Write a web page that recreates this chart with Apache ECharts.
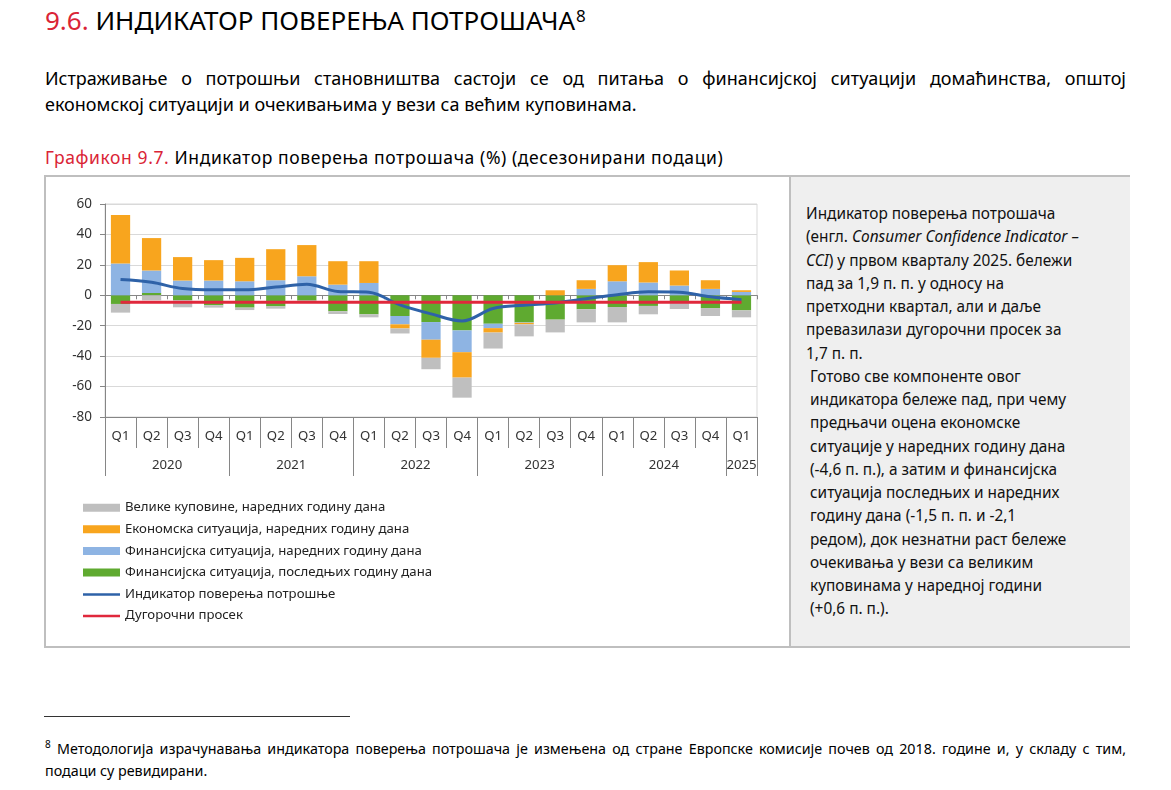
<!DOCTYPE html>
<html>
<head>
<meta charset="utf-8">
<script src="https://cdn.jsdelivr.net/npm/echarts@6/dist/echarts.min.js"></script>
<style>
  html, body { margin:0; padding:0; background:#fff; width:1171px; height:790px; overflow:hidden; font-family:"Noto Sans", sans-serif; color:#000; }
  .abs { position:absolute; white-space:nowrap; }
  .red { color:#DA2436; }
  #h1 { left:45px; top:3px; font-size:26px; line-height:34px; }
  #h1 sup { font-size:17px; position:relative; top:-4px; vertical-align:top; margin-left:1px; }
  .jl { text-align:justify; text-align-last:justify; white-space:normal; }
  #p1 { left:45px; top:65px; width:1081px; font-size:18px; line-height:26px; }
  #cap { left:45px; top:145px; font-size:17.5px; line-height:24px; letter-spacing:0.6px; }
  #box { position:absolute; left:44px; top:175px; width:1082px; height:469px; border:2px solid #BFBFBF; box-sizing:content-box; }
  #chart { position:absolute; left:0; top:0; width:743px; height:469px; }
  #panel { position:absolute; left:743px; top:0; width:339px; height:469px; background:#EFEFEF; border-left:2px solid #BFBFBF; }
  #ptext { position:absolute; left:15px; top:25px; font-size:15.4px; line-height:23.25px; white-space:nowrap; color:#111; }
  #rule { position:absolute; left:44px; top:716px; width:306px; height:1px; background:#333; }
  #fn { left:45px; top:733px; width:1081px; font-size:14.3px; line-height:22px; }
</style>
</head>
<body>
<div id="h1" class="abs"><span class="red">9.6.</span> ИНДИКАТОР ПОВЕРЕЊА ПОТРОШАЧА<sup>8</sup></div>
<div id="p1" class="abs"><div class="jl">Истраживање о потрошњи становништва састоји се од питања о финансијској ситуацији домаћинства, општој</div><div>економској ситуацији и очекивањима у вези са већим куповинама.</div></div>
<div id="cap" class="abs"><span class="red">Графикон 9.7.</span> Индикатор поверења потрошача (%) (десезонирани подаци)</div>
<div id="box">
  <div id="chart"></div>
  <div id="panel"><div id="ptext">Индикатор поверења потрошача<br>(енгл. <i>Consumer Confidence Indicator –</i><br><i>CCI</i>) у првом кварталу 2025. бележи<br>пад за 1,9 п. п. у односу на<br>претходни квартал, али и даље<br>превазилази дугорочни просек за<br>1,7 п. п.<br>&nbsp;Готово све компоненте овог<br>&nbsp;индикатора бележе пад, при чему<br>&nbsp;предњачи оцена економске<br>&nbsp;ситуације у наредних годину дана<br>&nbsp;(-4,6 п. п.), а затим и финансијска<br>&nbsp;ситуација последњих и наредних<br>&nbsp;годину дана (-1,5 п. п. и -2,1<br>&nbsp;редом), док незнатни раст бележе<br>&nbsp;очекивања у вези са великим<br>&nbsp;куповинама у наредној години<br>&nbsp;(+0,6 п. п.).</div></div>
</div>
<div id="rule"></div>
<div id="fn" class="abs"><div class="jl"><sup style="font-size:10px">8</sup> Методологија израчунавања индикатора поверења потрошача је измењена од стране Европске комисије почев од 2018. године и, у складу с тим,</div><div>подаци су ревидирани.</div></div>

<script>
// ---- data ----
const quarters = ['Q1','Q2','Q3','Q4','Q1','Q2','Q3','Q4','Q1','Q2','Q3','Q4','Q1','Q2','Q3','Q4','Q1','Q2','Q3','Q4','Q1'];
const years = ['2020','2021','2022','2023','2024','2025'];
const yearLengths = [4,4,4,4,4,1];

const bigPurchases = [-5.7,-3.3,-4.6,-1.5,-1.6,-1.5,-0.5,-1.8,-2.0,-3.3,-7.5,-13.2,-10.5,-7.9,-8.4,-8.6,-10.1,-5.5,-3.9,-5.2,-4.6];
const econNext     = [31.8,21.3,15.4,13.4,15.4,20.4,20.5,15.4,14.3,-2.7,-11.9,-16.7,-2.9,-1.0,3.3,5.7,10.6,13.4,9.9,5.7,1.1];
const finNext      = [20.9,14.8,9.7,9.7,9.2,9.9,12.5,7.0,8.1,-5.5,-11.6,-14.3,-2.9,-0.3,0.0,4.2,9.2,8.4,6.4,4.2,2.2];
const finLast      = [-5.7,1.5,-3.3,-6.6,-8.1,-7.3,-3.5,-10.5,-12.5,-13.6,-17.6,-23.1,-18.7,-17.8,-16.0,-9.2,-7.7,-7.0,-5.1,-8.4,-9.9];
const cci          = [10.3,8.5,4.4,3.6,3.6,5.4,7.2,2.5,2.0,-6.3,-12.2,-16.9,-8.7,-6.5,-5.0,-2.3,0.4,2.3,2.0,-1.0,-2.9];
const longAvg      = [-4.6,-4.6,-4.6,-4.6,-4.6,-4.6,-4.6,-4.6,-4.6,-4.6,-4.6,-4.6,-4.6,-4.6,-4.6,-4.6,-4.6,-4.6,-4.6,-4.6,-4.6];

const names = {
  big: 'Велике куповине, наредних годину дана',
  econ: 'Економска ситуација, наредних годину дана',
  finN: 'Финансијска ситуација, наредних годину дана',
  finL: 'Финансијска ситуација, последњих годину дана',
  cci: 'Индикатор поверења потрошње',
  avg: 'Дугорочни просек'
};

// half-step slots for the year level of the axis
const slots = new Array(quarters.length * 2 + 1).fill('');
const boundaries = new Set();
let start = 0;
years.forEach((y, i) => {
  boundaries.add(start * 2);
  slots[start * 2 + yearLengths[i]] = y;
  start += yearLengths[i];
});
boundaries.add(start * 2);

const FONT = '"Noto Sans", sans-serif';
const lineIcon = 'path://M0,0 M0,3 L38,3 L38,5.6 L0,5.6 Z M38,8';
const chart = echarts.init(document.getElementById('chart'), null, {renderer:'canvas'});
const barW = '62%';
chart.setOption({
  animation: false,
  textStyle: { fontFamily: FONT },
  grid: { left: 59, top: 27, width: 652, height: 213, show: true, borderColor: '#D9D9D9', borderWidth: 1 },
  legend: {
    orient: 'vertical', left: 32, top: 319, itemWidth: 37, itemHeight: 8, itemGap: 8.2,
    textStyle: { fontFamily: FONT, fontSize: 13.2, color: '#222', lineHeight: 13.4 },
    data: [
      {name: names.big, icon: 'rect'},
      {name: names.econ, icon: 'rect'},
      {name: names.finN, icon: 'rect'},
      {name: names.finL, icon: 'rect'},
      {name: names.cci, icon: lineIcon},
      {name: names.avg, icon: lineIcon}
    ]
  },
  xAxis: [
    { type: 'category', data: quarters, position: 'bottom',
      axisLine: { onZero: false, lineStyle: { color: '#868686' } },
      axisTick: { show: true, length: 31, interval: 0, lineStyle: { color: '#868686' } },
      axisLabel: { interval: 0, margin: 13, fontSize: 13.2, color: '#333', fontFamily: FONT },
      splitLine: { show: false } },
    { type: 'category', data: slots, boundaryGap: false, position: 'bottom',
      axisLine: { onZero: false, show: false },
      axisTick: { show: true, length: 59, interval: (i) => boundaries.has(i), lineStyle: { color: '#868686' } },
      axisLabel: { interval: 0, margin: 42, fontSize: 13.2, color: '#333', fontFamily: FONT },
      splitLine: { show: false } },
    { type: 'category', data: quarters, position: 'bottom',
      axisLine: { onZero: true, lineStyle: { color: '#868686' } },
      axisTick: { show: true, length: 4, interval: 0, lineStyle: { color: '#868686' } },
      axisLabel: { show: false }, splitLine: { show: false } }
  ],
  yAxis: {
    type: 'value', min: -80, max: 60, interval: 20,
    axisLine: { show: true, lineStyle: { color: '#868686' } },
    axisTick: { show: true, length: 5, lineStyle: { color: '#868686' } },
    axisLabel: { margin: 13, fontSize: 13.5, color: '#333', fontFamily: FONT },
    splitLine: { lineStyle: { color: '#D9D9D9' } }
  },
  series: [
    { name: names.finL, type: 'bar', stack: 'c', data: finLast, barWidth: barW, itemStyle: { color: '#5FAA30' } },
    { name: names.finN, type: 'bar', stack: 'c', data: finNext, barWidth: barW, itemStyle: { color: '#8EB4E3' } },
    { name: names.econ, type: 'bar', stack: 'c', data: econNext, barWidth: barW, itemStyle: { color: '#F8A51E' } },
    { name: names.big, type: 'bar', stack: 'c', data: bigPurchases, barWidth: barW, itemStyle: { color: '#BFBFBF' } },
    { name: names.cci, type: 'line', data: cci, smooth: 0.35, symbol: 'none', showSymbol: false,
      lineStyle: { color: '#2E62A8', width: 3 }, itemStyle: { color: '#2E62A8' }, z: 5 },
    { name: names.avg, type: 'line', data: longAvg, symbol: 'none', showSymbol: false,
      lineStyle: { color: '#E0283C', width: 3 }, itemStyle: { color: '#E0283C' }, z: 6 }
  ]
});
</script>
</body>
</html>
